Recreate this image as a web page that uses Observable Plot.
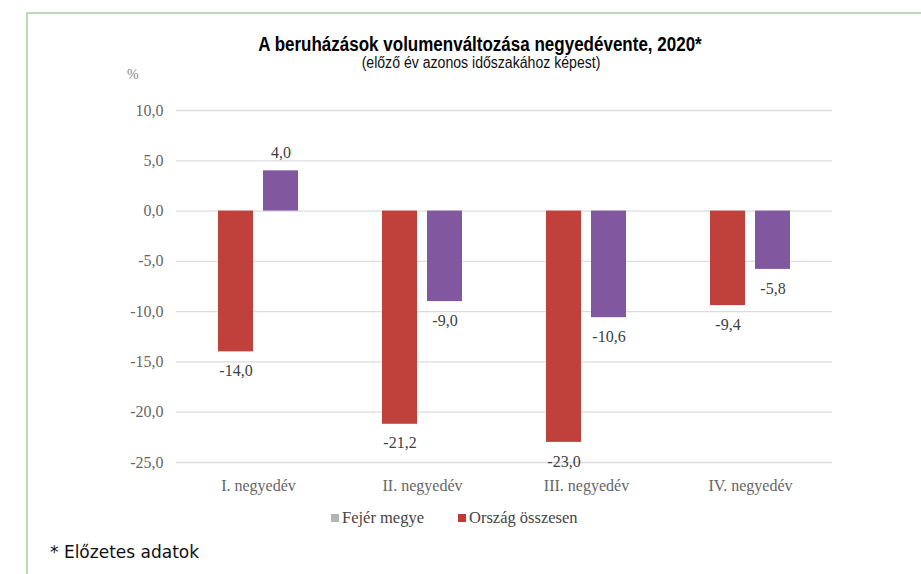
<!DOCTYPE html>
<html>
<head>
<meta charset="utf-8">
<script src="https://cdn.jsdelivr.net/npm/d3@7"></script>
<script src="https://cdn.jsdelivr.net/npm/@observablehq/plot@0.6"></script>
<style>
  html, body { margin: 0; padding: 0; background: #fff; }
  #wrap { position: relative; width: 921px; height: 574px; overflow: hidden; }
  #frame { position: absolute; left: 26px; top: 12px; right: -5px; bottom: -5px;
           border-top: 2px solid #bcd8b8; border-left: 2px solid #bcd8b8; }
  .t { position: absolute; white-space: nowrap; }
  #title { left: 480px; top: 35px; font-family: "Liberation Sans", sans-serif;
           font-weight: bold; font-size: 20px; color: #000; line-height: 19px;
           transform: translateX(-50%) scaleX(0.85); }
  #subtitle { left: 481px; top: 55px; font-family: "Liberation Sans", sans-serif;
           font-size: 16px; color: #111; line-height: 16px;
           transform: translateX(-50%) scaleX(0.88); }
  #pct { left: 127px; top: 67px; font-family: "Liberation Serif", serif; font-size: 14px; color: #888; }
  #legend { left: 0; width: 921px; top: 508px; font-family: "Liberation Serif", serif;
            font-size: 16.5px; color: #444; line-height: 20px; }
  #legend .item { position: absolute; }
  #legend .sw { display: inline-block; width: 8px; height: 8px; margin-right: 3px; vertical-align: 1px; }
  #foot { left: 50px; top: 541px; font-family: "DejaVu Sans", sans-serif; font-size: 17px; color: #111; line-height: 22px; }
  #chart { position: absolute; left: 0; top: 0; }
</style>
</head>
<body>
<div id="wrap">
  <div id="frame"></div>
  <div id="chart"></div>
  <div class="t" id="title"></div>
  <div class="t" id="subtitle"></div>
  <div class="t" id="pct"></div>
  <div class="t" id="legend"></div>
  <div class="t" id="foot"></div>
</div>
<script>
const titleText = "A beruházások volumenváltozása negyedévente, 2020*";
const subtitleText = "(előző év azonos időszakához képest)";
const unitLabel = "%";
const footText = "* Előzetes adatok";

const quarters = ["I. negyedév", "II. negyedév", "III. negyedév", "IV. negyedév"];
const seriesNames = ["Ország összesen", "Fejér megye"];
const orszag = [-14.0, -21.2, -23.0, -9.4];
const fejer = [4.0, -9.0, -10.6, -5.8];
const yTicks = [10, 5, 0, -5, -10, -15, -20, -25];
const seriesColors = ["#c0413b", "#8157a0"];
const legendOrder = ["Fejér megye", "Ország összesen"];
const legendColors = ["#b3b3b3", "#c8363a"];

document.getElementById("title").textContent = titleText;
document.getElementById("subtitle").textContent = subtitleText;
document.getElementById("pct").textContent = unitLabel;
document.getElementById("foot").textContent = footText;

const rows = [];
quarters.forEach((q, i) => {
  rows.push({q, s: seriesNames[0], v: orszag[i]});
  rows.push({q, s: seriesNames[1], v: fejer[i]});
});

const fmt = d => d.toFixed(1).replace(".", ",");

const chart = Plot.plot({
  width: 921,
  height: 500,
  marginTop: 110,
  marginBottom: 38,
  marginLeft: 175,
  marginRight: 88,
  style: {fontFamily: "Liberation Serif, serif", fontSize: "16px", color: "#666", background: "transparent"},
  fx: {domain: quarters, padding: 0, axis: "bottom", tickSize: 0, tickPadding: 17, label: null},
  x: {domain: seriesNames, paddingInner: 0.217, paddingOuter: 0.896, axis: null},
  y: {domain: [-25, 10], ticks: yTicks, tickFormat: fmt, tickSize: 0, tickPadding: 13, label: null},
  color: {domain: seriesNames, range: seriesColors},
  marks: [
    Plot.ruleY(yTicks, {stroke: "#dcdcdc", strokeWidth: 1.3}),
    Plot.barY(rows, {fx: "q", x: "s", y: "v", fill: "s"}),
    Plot.text(rows, {filter: d => d.v >= 0, fx: "q", x: "s", y: "v", text: d => fmt(d.v), dy: -18, fill: "#404040", fontSize: 16}),
    Plot.text(rows, {filter: d => d.v < 0, fx: "q", x: "s", y: "v", text: d => fmt(d.v), dy: 19, fill: "#404040", fontSize: 16})
  ]
});
document.getElementById("chart").appendChild(chart);

const legend = document.getElementById("legend");
const legendX = [331, 458];
legendOrder.forEach((name, i) => {
  const item = document.createElement("span");
  item.className = "item";
  item.style.left = legendX[i] + "px";
  const sw = document.createElement("span");
  sw.className = "sw";
  sw.style.background = legendColors[i];
  item.appendChild(sw);
  item.appendChild(document.createTextNode(name));
  legend.appendChild(item);
});
</script>
</body>
</html>
